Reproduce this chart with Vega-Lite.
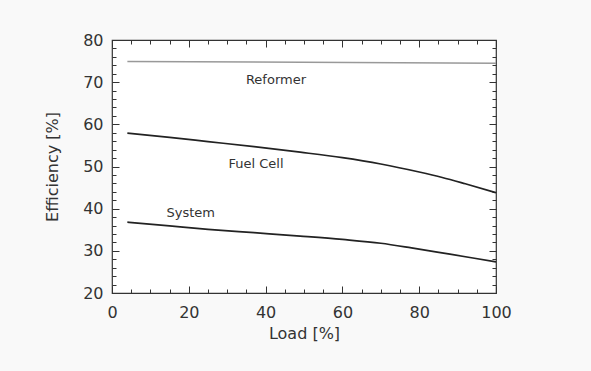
{
  "$schema": "https://vega.github.io/schema/vega-lite/v6.json",
  "width": 384,
  "height": 253,
  "autosize": {"type": "none"},
  "padding": {"left": 112, "top": 40, "right": 95, "bottom": 78},
  "background": "#f9f9f9",
  "config": {
    "font": "DejaVu Sans",
    "view": {"stroke": "#333", "strokeWidth": 1.2, "fill": "white"},
    "axis": {
      "grid": false,
      "domain": false,
      "labelFlush": false,
      "tickColor": "#333",
      "tickWidth": 1,
      "labelColor": "#333",
      "labelFontSize": 16,
      "labelFont": "DejaVu Sans",
      "titleFont": "DejaVu Sans",
      "titleFontSize": 16,
      "titleFontWeight": "normal",
      "titleColor": "#333"
    }
  },
  "datasets": {
    "curves": [
      {"series": "Reformer", "load": 4, "eff": 74.9},
      {"series": "Reformer", "load": 100, "eff": 74.5},
      {"series": "Fuel Cell", "load": 4, "eff": 57.9},
      {"series": "Fuel Cell", "load": 15, "eff": 56.9},
      {"series": "Fuel Cell", "load": 25, "eff": 55.9},
      {"series": "Fuel Cell", "load": 37, "eff": 54.7},
      {"series": "Fuel Cell", "load": 49, "eff": 53.4},
      {"series": "Fuel Cell", "load": 60, "eff": 52.1},
      {"series": "Fuel Cell", "load": 70, "eff": 50.6},
      {"series": "Fuel Cell", "load": 80, "eff": 48.7},
      {"series": "Fuel Cell", "load": 86, "eff": 47.4},
      {"series": "Fuel Cell", "load": 92, "eff": 45.9},
      {"series": "Fuel Cell", "load": 100, "eff": 43.8},
      {"series": "System", "load": 4, "eff": 36.8},
      {"series": "System", "load": 15, "eff": 35.9},
      {"series": "System", "load": 25, "eff": 35.1},
      {"series": "System", "load": 37, "eff": 34.3},
      {"series": "System", "load": 49, "eff": 33.5},
      {"series": "System", "load": 60, "eff": 32.7},
      {"series": "System", "load": 70, "eff": 31.8},
      {"series": "System", "load": 78, "eff": 30.7},
      {"series": "System", "load": 88, "eff": 29.2},
      {"series": "System", "load": 100, "eff": 27.4}
    ],
    "labels": [
      {"label": "Reformer", "load": 42.7, "eff": 70.4},
      {"label": "Fuel Cell", "load": 37.5, "eff": 50.5},
      {"label": "System", "load": 20.5, "eff": 38.9}
    ]
  },
  "layer": [
    {
      "data": {"name": "curves"},
      "transform": [{"filter": "datum.series != 'Reformer'"}],
      "mark": {"type": "line", "interpolate": "monotone", "color": "#222", "strokeWidth": 1.7},
      "encoding": {
        "x": {
          "field": "load", "type": "quantitative",
          "scale": {"domain": [0, 100], "nice": false},
          "axis": {
            "orient": "bottom",
            "title": "Load [%]",
            "values": [0,5,10,15,20,25,30,35,40,45,50,55,60,65,70,75,80,85,90,95,100],
            "labelExpr": "datum.value % 20 == 0 ? datum.label : ''",
            "tickSize": {"condition": {"test": "datum.value % 20 == 0", "value": -7}, "value": -4},
            "labelPadding": 18,
            "titlePadding": 5
          }
        },
        "y": {
          "field": "eff", "type": "quantitative",
          "scale": {"domain": [20, 80], "nice": false},
          "axis": {
            "orient": "left",
            "title": "Efficiency [%]",
            "values": [20,22,24,26,28,30,32,34,36,38,40,42,44,46,48,50,52,54,56,58,60,62,64,66,68,70,72,74,76,78,80],
            "labelExpr": "datum.value % 10 == 0 ? datum.label : ''",
            "tickSize": {"condition": {"test": "datum.value % 10 == 0", "value": -7}, "value": -4},
            "labelPadding": 16,
            "titlePadding": 22
          }
        },
        "detail": {"field": "series"}
      }
    },
    {
      "data": {"name": "curves"},
      "transform": [{"filter": "datum.series == 'Reformer'"}],
      "mark": {"type": "line", "color": "#999", "strokeWidth": 1.5},
      "encoding": {
        "x": {
          "field": "load", "type": "quantitative",
          "scale": {"domain": [0, 100], "nice": false},
          "axis": {
            "orient": "top", "title": null, "labels": false,
            "values": [0,5,10,15,20,25,30,35,40,45,50,55,60,65,70,75,80,85,90,95,100],
            "tickSize": {"condition": {"test": "datum.value % 20 == 0", "value": -7}, "value": -4}
          }
        },
        "y": {
          "field": "eff", "type": "quantitative",
          "scale": {"domain": [20, 80], "nice": false},
          "axis": {
            "orient": "right", "title": null, "labels": false,
            "values": [20,22,24,26,28,30,32,34,36,38,40,42,44,46,48,50,52,54,56,58,60,62,64,66,68,70,72,74,76,78,80],
            "tickSize": {"condition": {"test": "datum.value % 10 == 0", "value": -7}, "value": -4}
          }
        }
      }
    },
    {
      "data": {"name": "labels"},
      "mark": {"type": "text", "fontSize": 13, "color": "#333", "font": "DejaVu Sans"},
      "encoding": {
        "x": {"field": "load", "type": "quantitative", "scale": {"domain": [0, 100], "nice": false}, "axis": null},
        "y": {"field": "eff", "type": "quantitative", "scale": {"domain": [20, 80], "nice": false}, "axis": null},
        "text": {"field": "label"}
      }
    }
  ],
  "resolve": {"scale": {"x": "independent", "y": "independent"}}
}
